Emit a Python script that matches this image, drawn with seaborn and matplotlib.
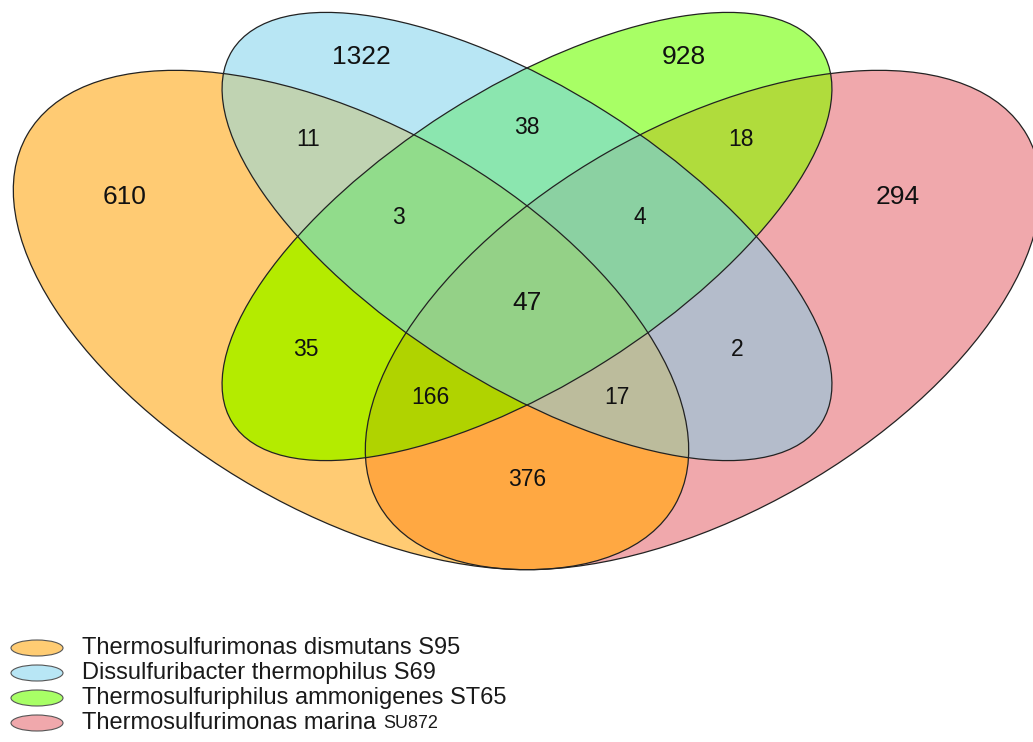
import numpy as np
import matplotlib
matplotlib.use("Agg")
import matplotlib.pyplot as plt
from matplotlib.patches import Ellipse
import seaborn as sns

sns.set_theme(style="white")
plt.rcParams["font.family"] = ["Liberation Sans", "DejaVu Sans"]

# ---- data -------------------------------------------------------------
set_names = [
    "Thermosulfurimonas dismutans S95",
    "Dissulfuribacter thermophilus S69",
    "Thermosulfuriphilus ammonigenes ST65",
    "Thermosulfurimonas marina",
]
set_name_suffix = ["", "", "", "SU872"]
set_colors = ["#FFCC73", "#B8E6F5", "#A8FF66", "#F0A8AC"]

# membership code per region: (orange, blue, green, pink)
region_keys = ["1000", "0100", "0010", "0001",
               "1100", "0110", "0011", "1010", "0101", "1001",
               "1110", "0111", "1011", "1101", "1111"]
region_counts = [610, 1322, 928, 294,
                 11, 38, 18, 35, 2, 376,
                 3, 4, 166, 17, 47]
region_colors = ["#FFCC73", "#B8E6F5", "#A8FF66", "#F0A8AC",
                 "#C0D4B2", "#8CE6AF", "#B0DC3C", "#B4EB00", "#B4BCCC", "#FFA842",
                 "#92DC8C", "#8CD2A2", "#B0D400", "#BCBC9C", "#94D287"]

# ---- layout -----------------------------------------------------------
W, H = 1033, 742
# ellipse geometry (centre x, centre y, semi-major, semi-minor, tilt deg, y down)
shapes = [
    (351, 320, 373, 193, 29.75),
    (527, 236.5, 348.5, 147.5, 32.3),
    (527, 236.5, 348.5, 147.5, -32.3),
    (703, 320, 373, 193, -29.75),
]
label_pos = {
    "1000": (125, 197), "0100": (361, 57), "0010": (684, 57), "0001": (898, 197),
    "1100": (308, 140), "0110": (527, 127), "0011": (741, 140), "1010": (306, 350),
    "0101": (737, 350), "1001": (527, 480), "1110": (398, 218), "0111": (640, 218),
    "1011": (430, 398), "1101": (617, 398), "1111": (527, 303),
}
big_regions = {"1000", "0100", "0010", "0001", "1111"}


def inside(xx, yy, shape):
    cx, cy, a, b, th = shape
    t = np.deg2rad(th)
    dx, dy = xx - cx, yy - cy
    u = dx * np.cos(t) + dy * np.sin(t)
    v = -dx * np.sin(t) + dy * np.cos(t)
    return (u / a) ** 2 + (v / b) ** 2 <= 1.0


fig = plt.figure(figsize=(W / 100, H / 100), dpi=100)
ax = fig.add_axes([0, 0, 1, 1])
ax.set_xlim(0, W)
ax.set_ylim(H, 0)
ax.axis("off")

# paint every region with its own colour
ss = 3
xs = (np.arange(W * ss) + 0.5) / ss
ys = (np.arange(H * ss) + 0.5) / ss
X, Y = np.meshgrid(xs, ys)
masks = [inside(X, Y, s) for s in shapes]
img = np.ones((H * ss, W * ss, 4))
for key, col in zip(region_keys, region_colors):
    m = np.ones_like(X, dtype=bool)
    for flag, mk in zip(key, masks):
        m &= mk if flag == "1" else ~mk
    img[m] = matplotlib.colors.to_rgba(col)
img = img.reshape(H, ss, W, ss, 4).mean(axis=(1, 3))
ax.imshow(img, extent=(0, W, H, 0), interpolation="bilinear", zorder=1)

for cx, cy, a, b, th in shapes:
    ax.add_patch(Ellipse((cx, cy), 2 * a, 2 * b, angle=th, fill=False,
                         edgecolor="#222222", linewidth=0.9, zorder=2))

for key, n in zip(region_keys, region_counts):
    x, y = label_pos[key]
    ax.text(x, y, str(n), ha="center", va="center",
            fontsize=19 if key in big_regions else 16.5, color="#111111", zorder=3)

# legend
for i, (name, suf, col) in enumerate(zip(set_names, set_name_suffix, set_colors)):
    y = 648 + i * 25
    ax.add_patch(Ellipse((37, y), 52, 16, fill=True, facecolor=col,
                         edgecolor="#555555", linewidth=0.8, zorder=3))
    t = ax.text(82, y, name, ha="left", va="center", fontsize=17,
                color="#1a1a1a", zorder=3)
    if suf:
        fig.canvas.draw()
        bb = t.get_window_extent()
        x_end = ax.transData.inverted().transform((bb.x1, bb.y0))[0]
        ax.text(x_end + 7, y + 1, suf, ha="left", va="center", fontsize=13,
                color="#1a1a1a", zorder=3)

fig.savefig("out.png", dpi=100, facecolor="white")
